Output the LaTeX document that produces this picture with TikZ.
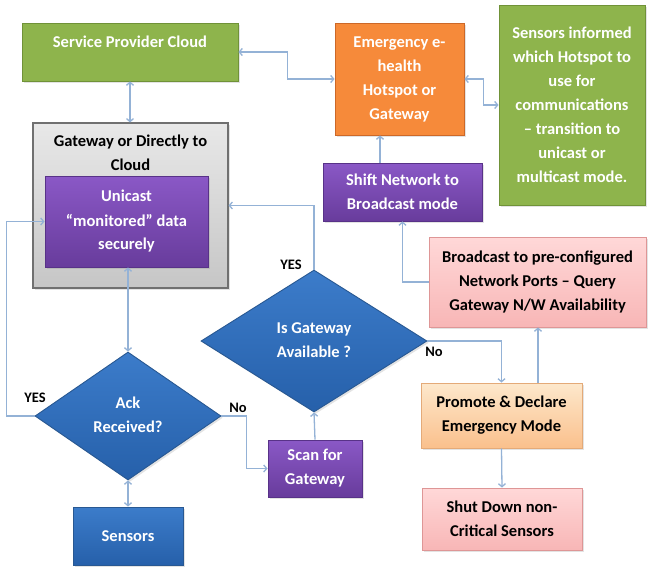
\documentclass[tikz,border=0pt]{standalone}
\usepackage{fontspec}
\setmainfont{Carlito}
\usetikzlibrary{arrows.meta,shapes.geometric,shadows}
\definecolor{grn}{RGB}{142,180,76}
\definecolor{grnb}{RGB}{112,146,56}
\definecolor{org}{RGB}{246,138,58}
\definecolor{orgb}{RGB}{204,104,40}
\definecolor{purT}{RGB}{138,88,198}
\definecolor{purB}{RGB}{104,60,156}
\definecolor{purb}{RGB}{88,50,136}
\definecolor{bluT}{RGB}{60,124,202}
\definecolor{bluB}{RGB}{38,96,170}
\definecolor{blub}{RGB}{40,88,146}
\definecolor{pnkT}{RGB}{255,216,216}
\definecolor{pnkB}{RGB}{248,182,182}
\definecolor{pnkb}{RGB}{222,150,150}
\definecolor{lorT}{RGB}{253,232,204}
\definecolor{lorB}{RGB}{250,192,140}
\definecolor{lorb}{RGB}{228,170,120}
\definecolor{gryT}{RGB}{232,232,232}
\definecolor{gryB}{RGB}{198,198,198}
\definecolor{gryb}{RGB}{112,112,112}
\definecolor{arr}{RGB}{148,178,214}
\begin{document}
\begin{tikzpicture}[x=1pt,y=-1pt,
  box/.style={rectangle, line width=0.9pt, inner sep=2pt, align=center,
    font=\bfseries\fontsize{16.5}{24}\selectfont,
    drop shadow={opacity=0.22,shadow xshift=1.8pt,shadow yshift=-1.8pt}},
  greenbox/.style={box, fill=grn, draw=grnb, text=white},
  orangebox/.style={box, fill=org, draw=orgb, text=white},
  purplebox/.style={box, top color=purT, bottom color=purB, draw=purb, text=white},
  bluebox/.style={box, top color=bluT, bottom color=bluB, draw=blub, text=white},
  pinkbox/.style={box, top color=pnkT, bottom color=pnkB, draw=pnkb, text=black},
  lorbox/.style={box, top color=lorT, bottom color=lorB, draw=lorb, text=black},
  graybox/.style={box, top color=gryT, bottom color=gryB, draw=gryb, line width=1.1pt},
  dia/.style={diamond, inner sep=0pt, line width=0.9pt, align=center,
    top color=bluT, bottom color=bluB, draw=blub, text=white,
    font=\bfseries\fontsize{16.5}{24}\selectfont,
    drop shadow={opacity=0.22,shadow xshift=1.8pt,shadow yshift=-1.8pt}},
  conn/.style={draw=arr, line width=1.3pt, -{Straight Barb[length=3pt,width=7pt]}},
  dconn/.style={draw=arr, line width=1.3pt, {Straight Barb[length=3pt,width=7pt]}-{Straight Barb[length=3pt,width=7pt]}},
  lbl/.style={font=\bfseries\fontsize{14.5}{16}\selectfont, text=black, inner sep=0pt}
]
\useasboundingbox (0,0) rectangle (648,566);
\fill[white] (0,0) rectangle (648,566);

\node[greenbox, minimum width=216pt, minimum height=58pt] (spc) at (130,52)
  {\raisebox{5pt}[0pt][0pt]{Service Provider Cloud}};
\node[orangebox, minimum width=129pt, minimum height=112pt] (emerg) at (399.5,79)
  {Emergency e-\\health\\Hotspot or\\Gateway};
\node[greenbox, minimum width=146pt, minimum height=200pt] (sens) at (572,105)
  {Sensors informed\\which Hotspot to\\use for\\communications\\– transition to\\unicast or\\multicast mode.};
\node[graybox, minimum width=195pt, minimum height=165pt,
  label={[anchor=north, yshift=-9pt, align=center, font=\bfseries\fontsize{16.5}{24}\selectfont, text=black]north:Gateway or Directly to\\Cloud}] (gw) at (130.5,205.5) {};
\node[purplebox, minimum width=163pt, minimum height=91pt] (uni) at (126.5,221.5)
  {Unicast\\“monitored” data\\securely};
\node[purplebox, minimum width=159pt, minimum height=58pt] (shift) at (402.5,192)
  {Shift Network to\\Broadcast mode};
\node[pinkbox, minimum width=217pt, minimum height=90pt] (bcast) at (537.5,282)
  {Broadcast to pre-configured\\Network Ports – Query\\Gateway N/W Availability};
\node[dia, minimum width=226pt, minimum height=142pt, aspect=1.59] (isgw) at (314,341)
  {\raisebox{8pt}{\begin{tabular}{@{}c@{}}Is Gateway\\Available ?\end{tabular}}};
\node[lorbox, minimum width=161pt, minimum height=65pt] (prom) at (501.5,415.5)
  {Promote \& Declare\\Emergency Mode};
\node[pinkbox, minimum width=160pt, minimum height=62pt] (shut) at (502,519)
  {Shut Down non-\\Critical Sensors};
\node[purplebox, minimum width=94pt, minimum height=57pt] (scan) at (315,468.5)
  {Scan for\\Gateway};
\node[dia, minimum width=186pt, minimum height=128pt, aspect=1.45] (ack) at (128,416)
  {\raisebox{2pt}{\begin{tabular}{@{}c@{}}Ack\\Received?\end{tabular}}};
\node[bluebox, minimum width=110pt, minimum height=58pt] (snsr) at (128,536)
  {Sensors};

% labels
\node[lbl] (yes1) at (291,265) {YES};
\node[lbl] (no1) at (434,352) {No};
\node[lbl] (yes2) at (35,398) {YES};
\node[lbl] (no2) at (238,408) {No};

% connectors
\draw[dconn] (spc.south) -- (spc.south |- gw.north);
\draw[dconn] (spc.east) -- ++(49,0) |- (emerg.west);
\draw[dconn] (emerg.east) -- ++(19,0) |- (sens.west);
\draw[conn] ([xshift=-22.5pt]shift.north) -- ([xshift=-22.5pt]shift.north |- emerg.south);
\draw[conn] (bcast.west) -| (shift.south);
\draw[conn] (isgw.north) |- (gw.east);
\draw[conn] (isgw.east) -| (prom.north);
\draw[conn] ([xshift=36.5pt]prom.north) -- ([xshift=36.5pt]prom.north |- bcast.south);
\draw[conn] (prom.south) -- (shut.north);
\draw[conn] (scan.north) -- (isgw.south);
\draw[dconn] (ack.north) -- (ack.north |- uni.south);
\draw[conn] (ack.west) -- ++(-28,0) |- (uni.west);
\draw[conn] (ack.east) -- ++(25,0) |- (scan.west);
\draw[dconn] (ack.south) -- (snsr.north);
\end{tikzpicture}
\end{document}
